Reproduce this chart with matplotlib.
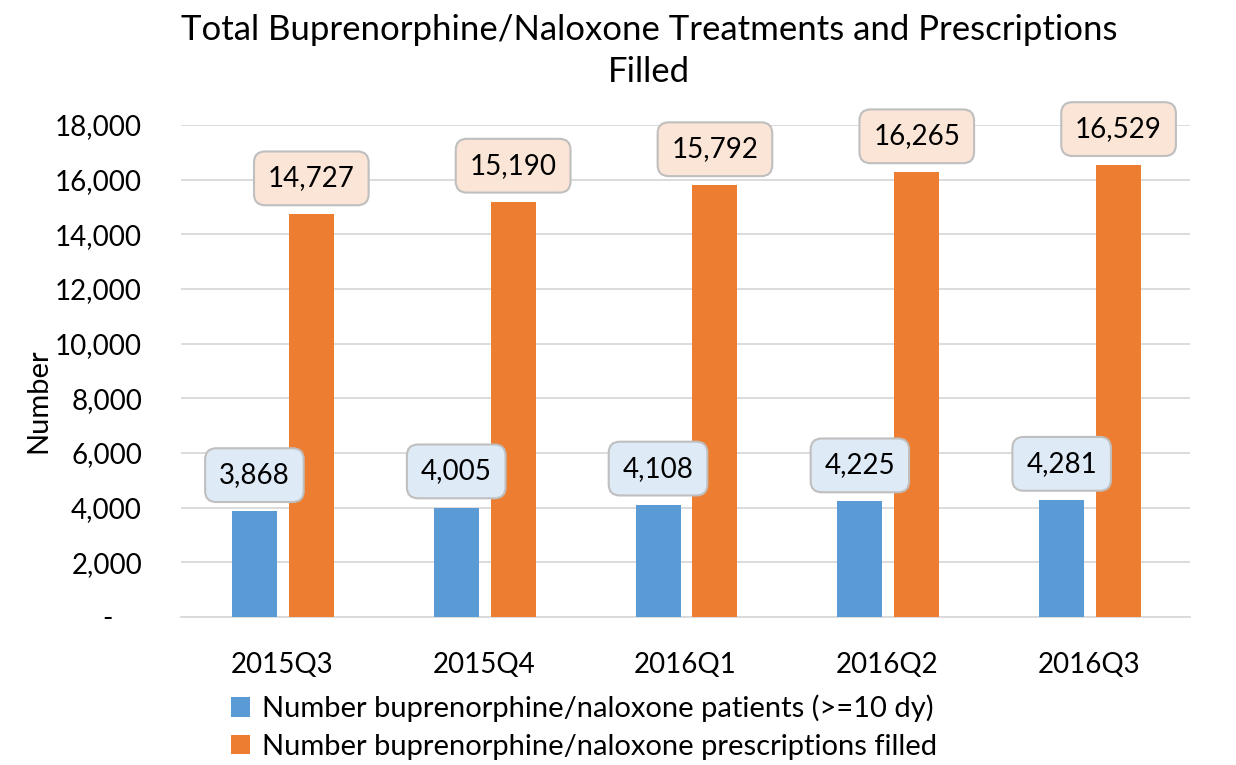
import matplotlib.pyplot as plt
import matplotlib.ticker as mticker
import numpy as np

plt.rcParams['font.family'] = ['Lato', 'DejaVu Sans']

quarters = ['2015Q3', '2015Q4', '2016Q1', '2016Q2', '2016Q3']
patients = [3868, 4005, 4108, 4225, 4281]
prescriptions = [14727, 15190, 15792, 16265, 16529]
series_names = ['Number buprenorphine/naloxone patients (>=10 dy)',
                'Number buprenorphine/naloxone prescriptions filled']

blue = '#5B9BD5'
orange = '#ED7D31'

fig = plt.figure(figsize=(12.36, 7.65), dpi=100)
ax = fig.add_axes([0.1464, 0.1935, 0.8164, 0.6431])

x = np.arange(len(quarters))
w = 0.223
b1 = ax.bar(x - 0.136, patients, w, color=blue, label=series_names[0], zorder=3)
b2 = ax.bar(x + 0.146, prescriptions, w, color=orange, label=series_names[1], zorder=3)

# data labels in rounded boxes
for bars, vals, fc in ((b1, patients, '#DEEBF7'), (b2, prescriptions, '#FBE5D6')):
    for r, v in zip(bars, vals):
        ax.annotate(f'{v:,}', (r.get_x() + r.get_width() / 2, v),
                    xytext=(0, 26), textcoords='offset points',
                    ha='center', va='center', fontsize=20, zorder=5,
                    bbox=dict(boxstyle='round,pad=0.5,rounding_size=0.4',
                              fc=fc, ec='#BFBFBF', lw=1.5))

ax.set_xlim(-0.5, len(quarters) - 0.5)
ax.set_ylim(0, 18000)
ax.yaxis.set_major_locator(mticker.MultipleLocator(2000))
ax.yaxis.set_major_formatter(mticker.FuncFormatter(
    lambda v, p: '-    ' if v == 0 else f'{int(v):,}'))
ax.grid(axis='y', color='#D9D9D9', lw=1.3, zorder=0)
for s in ('top', 'right', 'left'):
    ax.spines[s].set_visible(False)
ax.spines['bottom'].set_color('#D9D9D9')
ax.spines['bottom'].set_linewidth(1.3)
ax.tick_params(axis='both', length=0, labelsize=20)
ax.tick_params(axis='y', pad=28)
ax.tick_params(axis='x', pad=25)
ax.set_xticks(x)
ax.set_xticklabels(quarters)

ax.set_ylabel('Number', fontsize=21)
ax.yaxis.set_label_coords(-0.128, 0.44)

fig.text(0.525, 0.982, 'Total Buprenorphine/Naloxone Treatments and Prescriptions\nFilled',
         ha='center', va='top', fontsize=25, linespacing=1.4)

fig.legend(handles=[b1, b2], loc='upper left', bbox_to_anchor=(0.187, 0.092),
           frameon=False, fontsize=21, handlelength=0.65, handleheight=0.65,
           handletextpad=0.4, labelspacing=0.4, borderaxespad=0, borderpad=0)

fig.savefig('out.png', dpi=100)
